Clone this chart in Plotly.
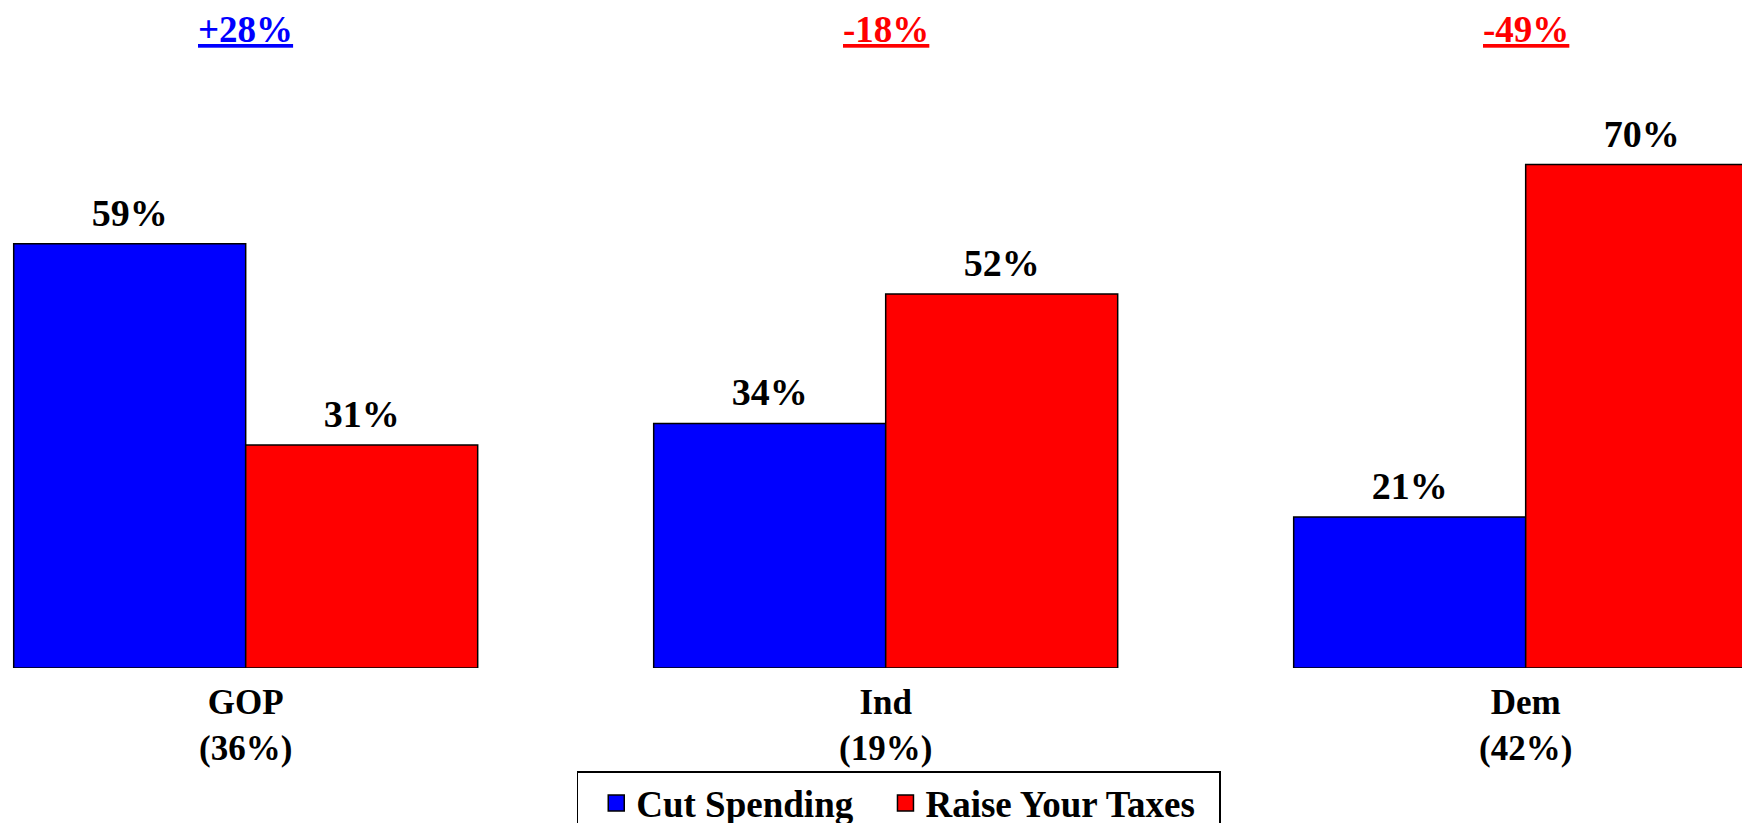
import plotly.graph_objects as go

categories = ["GOP<br>(36%)", "Ind<br>(19%)", "Dem<br>(42%)"]
cut_spending = [59, 34, 21]
raise_taxes = [31, 52, 70]
net_labels = ["+28%", "-18%", "-49%"]
net_colors = ["#0000FF", "#FF0000", "#FF0000"]
series_names = ["Cut Spending", "Raise Your Taxes"]

FONT = "Liberation Serif"
xpos = list(range(len(categories)))
PLOT_H = 660  # pixel height of plotting area

fig = go.Figure()
series = [
    (series_names[0], cut_spending, "#0000FF", "a"),
    (series_names[1], raise_taxes, "#FF0000", "b"),
]
for name, vals, col, grp in series:
    fig.add_trace(go.Bar(
        x=xpos, y=vals, name=name, showlegend=False,
        marker=dict(color=col, line=dict(color="black", width=1.5)),
        offsetgroup=grp,
    ))
for name, vals, col, grp in series:
    fig.add_trace(go.Scatter(
        x=xpos, y=vals, mode="markers+text", showlegend=False,
        marker=dict(size=12, opacity=0, color=col),
        text=[f"<b>{v}%</b>" for v in vals], textposition="top center",
        textfont=dict(family=FONT, size=38, color="black"),
        offsetgroup=grp, cliponaxis=False, hoverinfo="skip",
    ))
# legend entries (square swatches like the original)
for k, (name, vals, col, grp) in enumerate(series):
    label = f"<b>{name}</b>" + ("&nbsp;" if k == 0 else "&nbsp;&nbsp;")
    fig.add_trace(go.Scatter(
        x=[None], y=[None], mode="markers", name=label,
        marker=dict(symbol="square", size=16, color=col,
                    line=dict(color="black", width=1.5)),
        offsetgroup=grp, showlegend=True,
    ))

for i, (lab, col) in enumerate(zip(net_labels, net_colors)):
    fig.add_annotation(
        x=xpos[i], xref="x", y=(PLOT_H - 22) / PLOT_H, yref="paper", yanchor="middle",
        text=f"<b><u>{lab}</u></b>", showarrow=False,
        font=dict(family=FONT, size=37, color=col),
    )

fig.update_layout(
    width=1750, height=823,
    margin=dict(l=0, r=0, t=0, b=823 - PLOT_H, autoexpand=False),
    paper_bgcolor="white", plot_bgcolor="white",
    barmode="group", bargap=0.275, bargroupgap=0,
    scattermode="group", scattergap=0.275,
    font=dict(family=FONT, size=36, color="black"),
    showlegend=True,
    legend=dict(
        orientation="h", x=0.509, xanchor="center", y=-(763 - PLOT_H) / PLOT_H, yanchor="top",
        bordercolor="black", borderwidth=1.5, indentation=18,
        font=dict(family=FONT, size=37, color="black"),
        itemsizing="trace", traceorder="normal",
    ),
    xaxis=dict(
        range=[-0.3714, 2.3630], tickvals=xpos,
        ticktext=[f"<b>{c.replace('<br>', '</b><br><b>')}</b>" for c in categories],
        showgrid=False, zeroline=False, showline=False, ticks="",
        ticklabelstandoff=10, automargin=False,
        tickfont=dict(family=FONT, size=35, color="black"),
    ),
    yaxis=dict(range=[0, 91.76], visible=False, automargin=False),
)

fig.write_html("out.html")
